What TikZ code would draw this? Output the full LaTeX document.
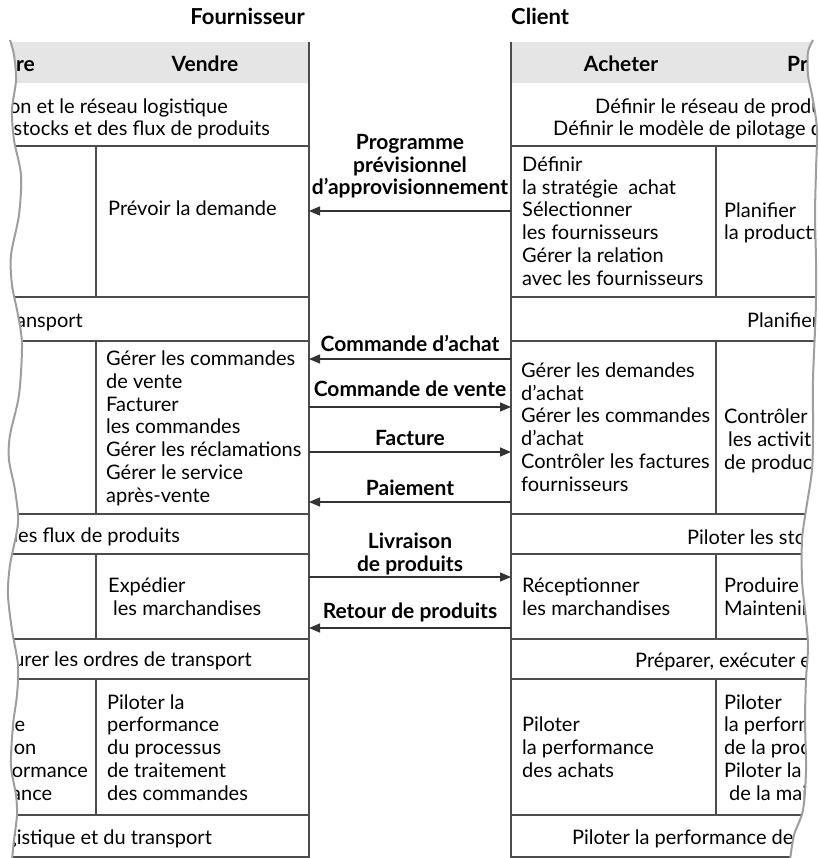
\documentclass[tikz,border=0pt]{standalone}
\usepackage{fontspec}
\setmainfont{Lato}
\usetikzlibrary{arrows.meta}
\newcommand{\cellfont}{\fontsize{20}{22.7}\selectfont}
\newcommand{\flowfont}{\fontsize{21}{22.7}\selectfont\bfseries}

\begin{document}
\begin{tikzpicture}[x=1pt,y=-1pt]
    \tikzstyle{txt}=[inner sep=0pt,align=left,font=\cellfont]
    \tikzstyle{head}=[inner sep=0pt,font=\flowfont]
    \tikzstyle{title}=[inner sep=0pt,font=\fontsize{22}{24}\selectfont\bfseries]
    \tikzstyle{lbl}=[inner sep=0pt,align=center,anchor=base,font=\flowfont]
    \tikzstyle{rule}=[draw=black!70,line width=1.3pt]
    \tikzstyle{band}=[fill=black!10]
    \tikzstyle{flow}=[draw=black!80,line width=1.3pt,-{Triangle[length=11pt,width=9pt]}]
    \tikzstyle{tear}=[draw=black!38,line width=2pt]

    \useasboundingbox (0,0) rectangle (818,858);

    \node[title,anchor=base east] (fourn) at (305,25) {Fournisseur};
    \node[title,anchor=base west] (client) at (511,25) {Client};

    % Fournisseur (torn on the left)
    \begin{scope}
    \clip plot[smooth] coordinates {(10,40) (14,55) (16,80) (12,110) (14,140) (21,175) (19,215) (11,255) (12,285) (18,315) (22,345) (19,395) (10,435) (9,460) (15,490) (18,523) (10,565) (8,595) (12,630) (18,665) (17,695) (13,725) (11,765) (16,795) (17,815) (14,840) (12,860)} -- (330,860) -- (330,40) -- cycle;
    \fill[band] (-10,42) rectangle (309,83);
    \foreach \y in {146,297,341,514,554,639,679,815,857}
        \draw[rule] (-10,\y) -- (309,\y);
    \foreach \a/\b in {146/297,341/514,554/639,679/815}
        \draw[rule] (96,\a) -- (96,\b);
    \draw[rule] (309,42) -- (309,858);

    % multi-line cells sit on the baseline of their last line
    \node[head,anchor=base east] (lhp) at (35,72) {Produire};
    \node[head,anchor=base] (lhv) at (205,72) {Vendre};
    \node[txt,anchor=base east] (ld1) at (228,114) {Définir le réseau de production et le réseau logistique};
    \node[txt,anchor=base east] (ld2) at (270,136) {Définir le modèle de pilotage des stocks et des flux de produits};
    \node[txt,anchor=base west] (lv1) at (108,216) {Prévoir la demande};
    \node[txt,anchor=base east] (lpt) at (83,327) {Planifier la production et le transport};
    \node[txt,anchor=base west] (lv2) at (106,502) {Gérer les commandes\\de vente\\Facturer\\les commandes\\Gérer les réclamations\\Gérer le service\\après-vente};
    \node[txt,anchor=base east] (lps) at (180,542) {Piloter les stocks et les flux de produits};
    \node[txt,anchor=base west] (lv3) at (108,615) {Expédier\\\hspace*{5pt}les marchandises};
    \node[txt,anchor=base east] (lpe) at (252,666) {Préparer, exécuter et mesurer les ordres de transport};
    \node[txt,anchor=base east] (lp4) at (88,800) {Piloter\\la performance\\de la production\\Piloter la performance\\de la maintenance};
    \node[txt,anchor=base west] (lv4) at (107,800) {Piloter la\\performance\\du processus\\de traitement\\des commandes};
    \node[txt,anchor=base east] (lpl) at (212,844) {Piloter la performance de la logistique et du transport};
    \end{scope}
    \draw[tear] plot[smooth] coordinates {(10,40) (14,55) (16,80) (12,110) (14,140) (21,175) (19,215) (11,255) (12,285) (18,315) (22,345) (19,395) (10,435) (9,460) (15,490) (18,523) (10,565) (8,595) (12,630) (18,665) (17,695) (13,725) (11,765) (16,795) (17,815) (14,840) (12,860)};

    % Client (torn on the right)
    \begin{scope}
    \clip (490,860) -- (490,40) -- plot[smooth] coordinates {(813,40) (808,52) (808,75) (813,100) (817,130) (816,170) (815,215) (816,260) (816,300) (815,330) (813,380) (813,430) (812,470) (806,510) (802,540) (802,580) (805,610) (808,645) (806,680) (805,720) (806,770) (803,810) (794,835) (790,860)} -- cycle;
    \fill[band] (511,42) rectangle (830,83);
    \foreach \y in {146,297,341,514,554,639,679,815,857}
        \draw[rule] (511,\y) -- (830,\y);
    \foreach \a/\b in {146/297,341/514,554/639,679/815}
        \draw[rule] (716,\a) -- (716,\b);
    \draw[rule] (511,42) -- (511,858);

    \node[head,anchor=base] (rha) at (621,72) {Acheter};
    \node[head,anchor=base west] (rhp) at (787,72) {Produire};
    \node[txt,anchor=base west] (rd1) at (595,114) {Définir le réseau de production et le réseau logistique};
    \node[txt,anchor=base west] (rd2) at (553,136) {Définir le modèle de pilotage des stocks et des flux de produits};
    \node[txt,anchor=base west] (ra1) at (522,285) {Définir\\la stratégie \ achat\\Sélectionner\\les fournisseurs\\Gérer la relation\\avec les fournisseurs};
    \node[txt,anchor=base west] (rp1) at (724,240) {Planifier\\la production};
    \node[txt,anchor=base west] (rpt) at (747,327) {Planifier la production et le transport};
    \node[txt,anchor=base west] (ra2) at (521,491) {Gérer les demandes\\d’achat\\Gérer les commandes\\d’achat\\Contrôler les factures\\fournisseurs};
    \node[txt,anchor=base west] (rp2) at (724,469) {Contrôler\\\hspace*{4pt}les activités\\de production};
    \node[txt,anchor=base west] (rps) at (687,544) {Piloter les stocks et les flux de produits};
    \node[txt,anchor=base west] (ra3) at (522,615) {Réceptionner\\les marchandises};
    \node[txt,anchor=base west] (rp3) at (724,615) {Produire\\Maintenir};
    \node[txt,anchor=base west] (rpe) at (635,667) {Préparer, exécuter et mesurer les ordres de transport};
    \node[txt,anchor=base west] (ra4) at (522,777) {Piloter\\la performance\\des achats};
    \node[txt,anchor=base west] (rp4) at (724,800) {Piloter\\la performance\\de la production\\Piloter la performance\\\hspace*{5pt}de la maintenance};
    \node[txt,anchor=base west] (rpl) at (572,844) {Piloter la performance de la logistique et du transport};
    \end{scope}
    \draw[tear] plot[smooth] coordinates {(813,40) (808,52) (808,75) (813,100) (817,130) (816,170) (815,215) (816,260) (816,300) (815,330) (813,380) (813,430) (812,470) (806,510) (802,540) (802,580) (805,610) (808,645) (806,680) (805,720) (806,770) (803,810) (794,835) (790,860)};

    % flux entre fournisseur et client
    \coordinate (v1) at (309,211); \coordinate (c1) at (511,211);
    \coordinate (v2) at (309,359); \coordinate (c2) at (511,359);
    \coordinate (v3) at (309,407); \coordinate (c3) at (511,407);
    \coordinate (v4) at (309,452); \coordinate (c4) at (511,452);
    \coordinate (v5) at (309,502); \coordinate (c5) at (511,502);
    \coordinate (v6) at (309,577); \coordinate (c6) at (511,577);
    \coordinate (v7) at (309,628); \coordinate (c7) at (511,628);

    \node[lbl] (f1) at (410,195) {Programme\\prévisionnel\\d’approvisionnement};
    \node[lbl] (f2) at (410,351) {Commande d’achat};
    \node[lbl] (f3) at (410,396) {Commande de vente};
    \node[lbl] (f4) at (410,445) {Facture};
    \node[lbl] (f5) at (410,495) {Paiement};
    \node[lbl] (f6) at (410,571) {Livraison\\de produits};
    \node[lbl] (f7) at (410,618) {Retour de produits};

    \path[flow] (c1) -- (v1);
    \path[flow] (c2) -- (v2);
    \path[flow] (v3) -- (c3);
    \path[flow] (v4) -- (c4);
    \path[flow] (c5) -- (v5);
    \path[flow] (v6) -- (c6);
    \path[flow] (c7) -- (v7);

\end{tikzpicture}
\end{document}
